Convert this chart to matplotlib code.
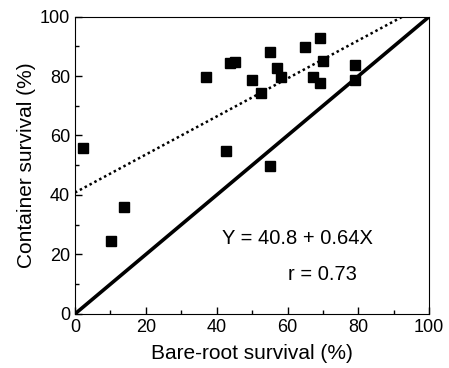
import numpy as np
import matplotlib
matplotlib.use('Agg')
import matplotlib.pyplot as plt

plt.rcParams['font.family'] = ['Liberation Sans', 'DejaVu Sans']

# Bare-root vs container survival (%)
bare_root = [2.2, 10.3, 13.9, 37.1, 42.5, 43.7, 45.2, 50.1, 52.4, 55.1,
             55.1, 57.0, 58.1, 64.9, 67.1, 69.1, 69.1, 70.1, 79.1, 79.1]
container = [55.7, 24.6, 35.8, 79.8, 54.8, 84.3, 84.6, 78.7, 74.3, 88.0,
             49.8, 82.8, 79.8, 89.8, 79.8, 92.7, 77.8, 84.9, 83.7, 78.7]

intercept = 40.8
slope = 0.64

fig = plt.figure(figsize=(4.49, 3.68), dpi=100)
ax = fig.add_axes([0.167, 0.147, 0.789, 0.808])

# 1:1 line
ax.plot([0, 100], [0, 100], color='black', lw=2.6, solid_capstyle='butt')

# regression line, stops at the top of the plot
x_end = (100 - intercept) / slope
xr = np.array([0, x_end])
ax.plot(xr, intercept + slope * xr, color='black', lw=1.8, linestyle=(0, (1, 1.2)))

ax.plot(bare_root, container, 's', color='black', markersize=6.5, clip_on=False)

ax.text(41.5, 25.3, 'Y = 40.8 + 0.64X', fontsize=14.5, va='center', ha='left')
ax.text(60, 13.1, 'r = 0.73', fontsize=14.5, va='center', ha='left')

ax.set_xlim(0, 100)
ax.set_ylim(0, 100)
ax.set_xticks(range(0, 101, 20))
ax.set_yticks(range(0, 101, 20))
ax.set_xticks(range(10, 100, 20), minor=True)
ax.set_yticks(range(10, 100, 20), minor=True)
ax.tick_params(which='both', direction='in', labelsize=13, width=1)
ax.tick_params(which='major', length=5)
ax.tick_params(which='minor', length=3)

ax.set_xlabel('Bare-root survival (%)', fontsize=15, labelpad=6)
ax.set_ylabel('Container survival (%)', fontsize=15, labelpad=3)

fig.savefig('out.png', dpi=100)
